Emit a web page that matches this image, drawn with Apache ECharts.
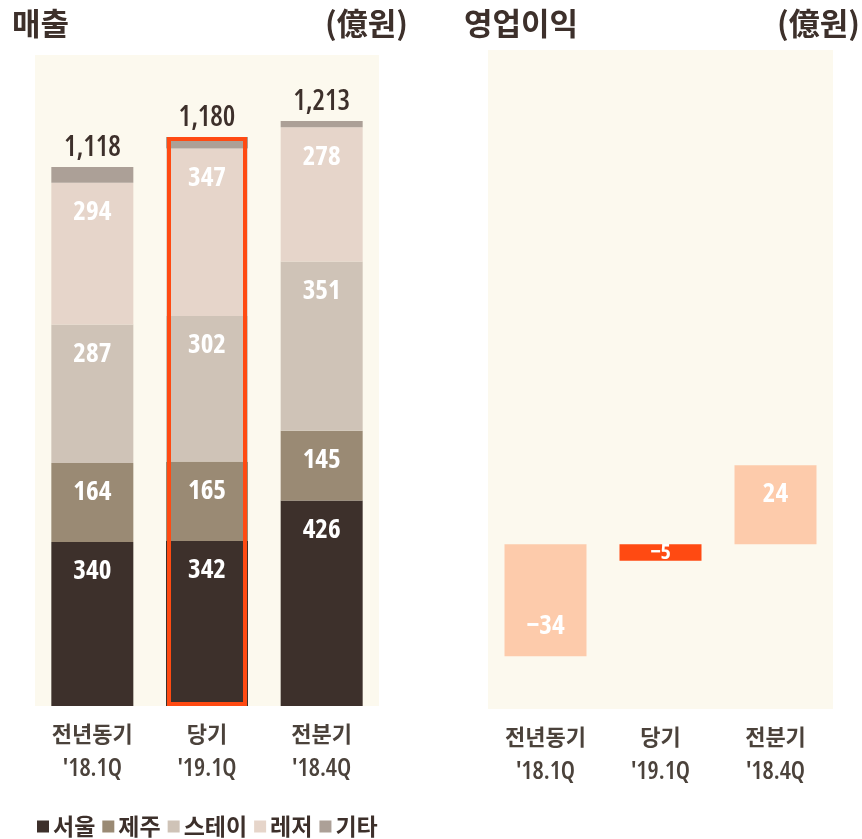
<!DOCTYPE html>
<html>
<head>
<meta charset="utf-8">
<script src="https://cdn.jsdelivr.net/npm/echarts@6/dist/echarts.min.js"></script>
<style>
html,body{margin:0;padding:0;background:#fff;}
#chart{width:862px;height:839px;}
</style>
</head>
<body>
<div id="chart"></div>
<script>
// ---- data ----
const categories = ['전년동기', '당기', '전분기'];
const periods = ["'18.1Q", "'19.1Q", "'18.4Q"];
const seriesNames = ['서울', '제주', '스테이', '레저', '기타'];
const seoul = [340, 342, 426];
const jeju = [164, 165, 145];
const stay = [287, 302, 351];
const leisure = [294, 347, 278];
const etc = [33, 24, 13];
const totals = [1118, 1180, 1213];
const opProfit = [-34, -5, 24];
const currentIndex = 1;

// ---- styles ----
const NARROW = "'Open Sans', Roboto, sans-serif";
const KR = "'Noto Sans CJK KR', 'Noto Sans', sans-serif";
const DARK = '#3d302b';
const colors = ['#3d302b', '#9a8a74', '#cfc3b7', '#e6d5ca', '#aca097'];
const BG = '#fcf9ee';

const segLabel = {
  show: true, position: 'insideTop', distance: 16,
  color: '#fff', fontSize: 27, fontWeight: 'bold condensed', fontFamily: NARROW
};

const catLabel = {
  show: true, interval: 0, margin: 10,
  formatter: function (v, i) { return '{a|' + v + '}\n{b|' + periods[i] + '}'; },
  rich: {
    a: { fontFamily: KR, fontSize: 22, fontWeight: 'bold', color: '#4b423b', lineHeight: 35 },
    b: { fontFamily: NARROW, fontSize: 25, fontWeight: '600 condensed', color: '#4b423b', lineHeight: 35 }
  }
};

const stacks = [seoul, jeju, stay, leisure, etc];
const leftSeries = stacks.map(function (arr, k) {
  return {
    name: seriesNames[k], type: 'bar', stack: 'sales',
    xAxisIndex: 0, yAxisIndex: 0, barWidth: 82,
    itemStyle: { color: colors[k] },
    label: k < 4 ? segLabel : {
      show: true, position: 'top', distance: 5,
      formatter: function (p) { return totals[p.dataIndex].toLocaleString('en-US'); },
      color: DARK, fontSize: 28, fontWeight: '600 condensed', fontFamily: NARROW
    },
    data: arr
  };
});

leftSeries.push({
  name: 'highlight', type: 'bar', xAxisIndex: 1, yAxisIndex: 0, barWidth: 80, z: 5,
  itemStyle: { color: 'transparent', borderColor: '#ff4a12', borderWidth: 4 },
  silent: true,
  data: totals.map(function (v, i) { return i === currentIndex ? v : null; })
});

const rightSeries = {
  name: '영업이익', type: 'bar', xAxisIndex: 2, yAxisIndex: 1, barWidth: 82,
  data: opProfit.map(function (v, i) {
    const small = Math.abs(v) < 10;
    return {
      value: v,
      itemStyle: { color: i === currentIndex ? '#ff4a12' : '#fdcbab' },
      label: {
        show: true,
        position: small ? 'inside' : (v < 0 ? 'insideBottom' : 'insideTop'),
        distance: 16,
        fontSize: small ? 22 : 27
      }
    };
  }),
  label: {
    show: true, color: '#fff', fontWeight: 'bold condensed', fontFamily: NARROW,
    formatter: function (p) { return p.value < 0 ? '\u2212' + Math.abs(p.value) : String(p.value); }
  }
};

const titleStyle = { fontFamily: KR, fontSize: 31, fontWeight: 'bold', color: DARK };

const option = {
  animation: false,
  title: [
    { text: '매출', left: 12, top: 8, padding: 0, textStyle: titleStyle },
    { text: '(億원)', right: 454, top: 8, padding: 0, textStyle: titleStyle },
    { text: '영업이익', left: 464, top: 8, padding: 0, textStyle: titleStyle },
    { text: '(億원)', right: 2, top: 8, padding: 0, textStyle: titleStyle }
  ],
  legend: {
    data: seriesNames, left: 37, top: 815, padding: 0,
    icon: 'rect', itemWidth: 12, itemHeight: 12, itemGap: 7,
    textStyle: { fontFamily: KR, fontSize: 23, fontWeight: 'bold', color: DARK, padding: [0, 0, 0, -1] },
    selectedMode: false
  },
  grid: [
    { left: 35, width: 344, top: 55, height: 651, show: true, backgroundColor: BG, borderWidth: 0 },
    { left: 488, width: 345, top: 50, height: 659, show: true, backgroundColor: BG, borderWidth: 0 }
  ],
  xAxis: [
    { type: 'category', gridIndex: 0, data: categories, axisLine: { show: false }, axisTick: { show: false }, axisLabel: catLabel },
    { type: 'category', gridIndex: 0, data: categories, show: false },
    { type: 'category', gridIndex: 1, data: categories, axisLine: { show: false }, axisTick: { show: false }, axisLabel: catLabel }
  ],
  yAxis: [
    { type: 'value', gridIndex: 0, min: 0, max: 1350, show: false, splitLine: { show: false } },
    { type: 'value', gridIndex: 1, min: -50, max: 150, show: false, splitLine: { show: false } }
  ],
  series: leftSeries.concat([rightSeries])
};

const chart = echarts.init(document.getElementById('chart'));
chart.setOption(option);
</script>
</body>
</html>
